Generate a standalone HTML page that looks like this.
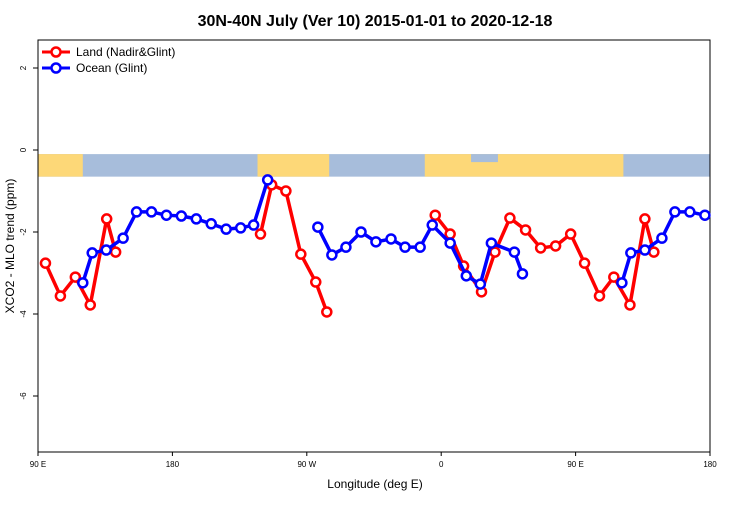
<!DOCTYPE html>
<html><head><meta charset="utf-8"><style>
body{margin:0;background:#fff;font-family:"Liberation Sans",sans-serif}
svg text{font-family:"Liberation Sans",sans-serif}
</style></head><body>
<svg width="750" height="500" xmlns="http://www.w3.org/2000/svg">
<text x="375" y="26" text-anchor="middle" font-size="16" font-weight="bold">30N-40N July (Ver 10)   2015-01-01 to 2020-12-18</text>
<g id="map"></g>
<g id="axes"></g>
<g id="series"></g>
<g>
<line x1="42" y1="52" x2="70" y2="52" stroke="red" stroke-width="3"/><circle cx="56" cy="52" r="4.5" fill="#fff" stroke="red" stroke-width="2.5"/>
<text x="76" y="56" font-size="12">Land (Nadir&amp;Glint)</text>
<line x1="42" y1="68" x2="70" y2="68" stroke="blue" stroke-width="3"/><circle cx="56" cy="68" r="4.5" fill="#fff" stroke="blue" stroke-width="2.5"/>
<text x="76" y="72" font-size="12">Ocean (Glint)</text>
</g>
<text x="375" y="488" text-anchor="middle" font-size="12">Longitude (deg E)</text>
<text transform="translate(14,246) rotate(-90)" text-anchor="middle" font-size="12">XCO2 - MLO trend (ppm)</text>
</svg>
<script>
const landLon=[95,105,115,125,136,142,null,239,246.5,256,266,276,283.4,null,356,366,375,387,396,406,416.5,426.6,436.6,446.7,456,466,475.6,486.4,496.4,502.4];
const landVal=[-2.76,-3.56,-3.10,-3.78,-1.68,-2.49,null,-2.05,-0.85,-1.0,-2.54,-3.22,-3.95,null,-1.59,-2.05,-2.83,-3.46,-2.49,-1.66,-1.95,-2.39,-2.34,-2.05,-2.76,-3.56,-3.10,-3.78,-1.68,-2.49];
const oceanLon=[120,126.3,135.7,147,156,166,176,186,196,206,216,225.7,234.4,243.8,null,277.4,286.8,296.2,306.3,316.3,326.4,335.8,345.9,354,366,376.8,386.2,393.6,409,414.4,null,481,487,496.4,507.8,516.5,526.5,536.6];
const oceanVal=[-3.24,-2.51,-2.44,-2.15,-1.51,-1.51,-1.59,-1.61,-1.68,-1.80,-1.93,-1.90,-1.83,-0.73,null,-1.88,-2.56,-2.37,-2.0,-2.24,-2.17,-2.37,-2.37,-1.83,-2.27,-3.07,-3.27,-2.27,-2.49,-3.02,null,-3.24,-2.51,-2.44,-2.15,-1.51,-1.51,-1.59];
const yTicks=[2,0,-2,-4,-6];
const xTickLon=[90,180,270,360,450,540];
const xTickLab=["90 E","180","90 W","0","90 E","180"];
const NS="http://www.w3.org/2000/svg";
const X0=38,X1=710,Y0=40,Y1=452;
const xs=l=>X0+(l-90)/450*(X1-X0);
const ys=v=>150-v*41;
function mk(t,a,p){const e=document.createElementNS(NS,t);for(const k in a)e.setAttribute(k,a[k]);p.appendChild(e);return e;}
const map=document.getElementById('map');
mk('rect',{x:X0,y:ys(-0.1),width:X1-X0,height:ys(-0.65)-ys(-0.1),fill:'#a7bddb'},map);
[[90,120],[237,285],[349,482]].forEach(r=>{
mk('rect',{x:xs(r[0]),y:ys(-0.1),width:xs(r[1])-xs(r[0]),height:ys(-0.65)-ys(-0.1),fill:'#fdd878'},map);});
mk('rect',{x:xs(380),y:ys(-0.1),width:xs(398)-xs(380),height:8,fill:'#a7bddb'},map);
const ax=document.getElementById('axes');
const box=mk('rect',{x:X0,y:Y0,width:X1-X0,height:Y1-Y0,fill:'none',stroke:'#000','stroke-width':1},ax);


yTicks.forEach(v=>{mk('line',{x1:X0-5,x2:X0,y1:ys(v),y2:ys(v),stroke:'#000'},ax);
const t=mk('text',{transform:`translate(${X0-12},${ys(v)}) rotate(-90)`,'text-anchor':'middle','font-size':8},ax);t.textContent=v;

});
xTickLon.forEach((l,i)=>{mk('line',{x1:xs(l),x2:xs(l),y1:Y1,y2:Y1+4,stroke:'#000'},ax);
const t=mk('text',{x:xs(l),y:Y1+15,'text-anchor':'middle','font-size':8},ax);t.textContent=xTickLab[i];

});
const sg=document.getElementById('series');
function draw(lon,val,col,name){
const g=mk('g',{},sg);


let seg=[];const segs=[];
lon.forEach((l,i)=>{if(l===null||val[i]===null){if(seg.length)segs.push(seg);seg=[];}else seg.push([xs(l),ys(val[i])]);});
if(seg.length)segs.push(seg);
segs.forEach(s=>mk('polyline',{points:s.map(p=>p.join(',')).join(' '),fill:'none',stroke:col,'stroke-width':3.5,'stroke-linejoin':'round'},g));
segs.forEach(s=>s.forEach(p=>{const c=mk('circle',{cx:p[0],cy:p[1],r:4.5,fill:'#fff',stroke:col,'stroke-width':2.5},g);

}));
}
draw(landLon,landVal,'red','land-series');
draw(oceanLon,oceanVal,'blue','ocean-series');
</script>
</body></html>
